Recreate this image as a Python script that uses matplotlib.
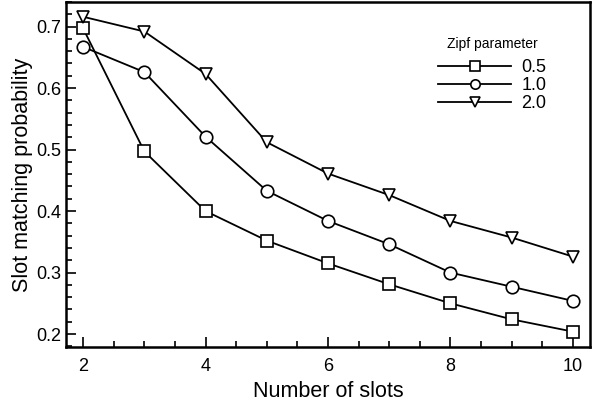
import matplotlib.pyplot as plt
from matplotlib.ticker import MultipleLocator

plt.rcParams['font.family'] = ['Liberation Sans', 'DejaVu Sans']

slots = [2, 3, 4, 5, 6, 7, 8, 9, 10]
labels = ['0.5', '1.0', '2.0']
p05 = [0.697, 0.497, 0.400, 0.352, 0.315, 0.281, 0.250, 0.224, 0.204]
p10 = [0.667, 0.626, 0.521, 0.433, 0.384, 0.346, 0.300, 0.277, 0.254]
p20 = [0.716, 0.692, 0.623, 0.512, 0.461, 0.426, 0.384, 0.357, 0.326]

fig = plt.figure(figsize=(6.02, 4.05), dpi=100)
ax = fig.add_axes([66 / 602, 1 - 347 / 405, 524 / 602, 345 / 405])

for vals, m, lab in zip([p05, p10, p20], ['s', 'o', 'v'], labels):
    ax.plot(slots, vals, color='black', lw=1.3, marker=m, ms=9,
            mfc='white', mec='black', mew=1.2, label=lab)

ax.set_xlim(1.72, 10.28)
ax.set_ylim(0.179, 0.74)
ax.xaxis.set_major_locator(MultipleLocator(2))
ax.xaxis.set_minor_locator(MultipleLocator(0.5))
ax.yaxis.set_major_locator(MultipleLocator(0.1))
ax.yaxis.set_minor_locator(MultipleLocator(0.02))
ax.tick_params(which='both', direction='in', width=1.2, labelsize=13)
ax.tick_params(which='major', length=7)
ax.tick_params(which='minor', length=4)
ax.tick_params(axis='x', pad=8)
for s in ax.spines.values():
    s.set_linewidth(1.8)

ax.set_xlabel('Number of slots', fontsize=15.5)
ax.set_ylabel('Slot matching probability', fontsize=15.5, labelpad=2)

leg = ax.legend(title='Zipf parameter', loc='upper right', bbox_to_anchor=(0.948, 0.946),
                frameon=False, fontsize=13, title_fontsize=10, handlelength=4.0,
                labelspacing=0.05, handletextpad=0.6, markerscale=0.75)
leg._legend_box.sep = 6

fig.savefig('out.png', dpi=100)
